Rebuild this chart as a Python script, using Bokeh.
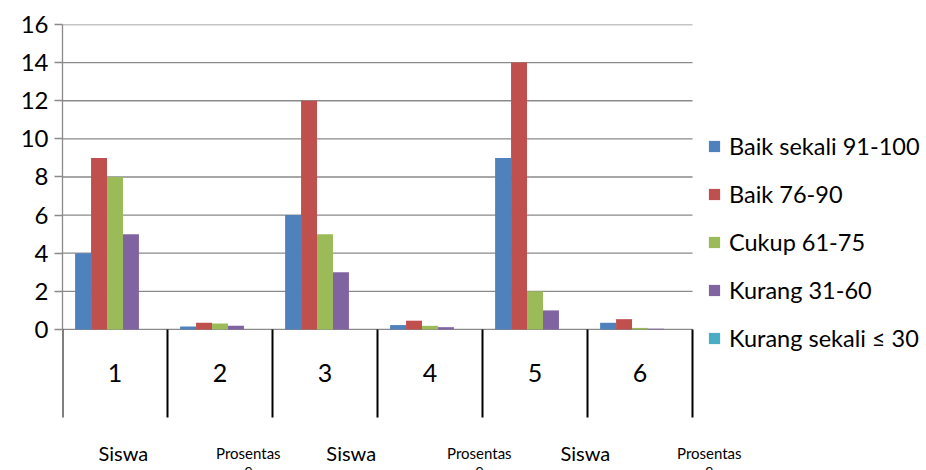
from bokeh.plotting import figure
from bokeh.models import FixedTicker, Range1d, Legend, LegendItem
from bokeh.core.properties import value
from bokeh.embed import file_html
from bokeh.resources import INLINE

# ---- data ----
categories = ["1", "2", "3", "4", "5", "6"]
level2_labels = ["Siswa", "Prosentase", "Siswa", "Prosentase", "Siswa", "Prosentase"]
series_names = ["Baik sekali 91-100", "Baik 76-90", "Cukup 61-75", "Kurang 31-60", "Kurang sekali \u2264 30"]
baik_sekali = [4, 0.15, 6, 0.23, 9, 0.35]
baik = [9, 0.35, 12, 0.46, 14, 0.54]
cukup = [8, 0.31, 5, 0.19, 2, 0.08]
kurang = [5, 0.19, 3, 0.12, 1, 0.04]
kurang_sekali = [0, 0, 0, 0, 0, 0]
y_ticks = [0, 2, 4, 6, 8, 10, 12, 14, 16]

# ---- layout / style ----
colors = ["#4F81BD", "#C0504D", "#9BBB59", "#8064A2", "#4BACC6"]
bar_w = 0.152
level2_x = [1.08, 2.27, 3.25, 4.47, 5.48, 6.66]
FONT = "Lato"
GRID = "#8a8a8a"
X_RIGHT = 8.7286         # frame extends right to host the legend
Y_BOTTOM = -7.4          # frame extends below zero to host the category axis
DIV_LEN = 4.62           # divider length (data units)
CAT_Y = -2.31            # baseline of level-1 labels
L2_Y = -6.5              # baseline of level-2 labels
L2_Y2 = -7.33            # baseline of wrapped second line

series = [baik_sekali, baik, cukup, kurang, kurang_sekali]
centers = list(range(1, len(categories) + 1))
bounds = [c - 0.5 for c in centers] + [centers[-1] + 0.5]
x_lo, x_hi = bounds[0], bounds[-1]

p = figure(width=926, height=470, output_backend="svg", toolbar_location=None,
           x_range=Range1d(x_lo, X_RIGHT), y_range=Range1d(Y_BOTTOM, 16.0001),
           x_axis_location=None,
           min_border_left=62, min_border_right=0, min_border_top=24, min_border_bottom=0)
p.outline_line_color = None
p.background_fill_color = "white"
p.border_fill_color = "white"
p.xgrid.visible = False
p.ygrid.visible = False

# horizontal gridlines across the category span (the one at 0 is the category axis line)
p.segment(x0=[x_lo] * len(y_ticks), y0=y_ticks, x1=[x_hi] * len(y_ticks), y1=y_ticks,
          line_color=GRID, line_width=1.3)

items = []
for i, (vals, name, col) in enumerate(zip(series, series_names, colors)):
    xs = [c + (i - 2) * bar_w for c in centers]
    r = p.vbar(x=xs, top=vals, width=bar_w, bottom=0, fill_color=col, line_color=None)
    items.append(LegendItem(label=name, renderers=[r]))

# y axis
p.yaxis.bounds = (0, 16)
p.yaxis.ticker = FixedTicker(ticks=y_ticks, minor_ticks=[])
p.yaxis.axis_line_color = GRID
p.yaxis.axis_line_width = 1.3
p.yaxis.major_tick_line_color = GRID
p.yaxis.major_tick_line_width = 1.3
p.yaxis.major_tick_out = 8
p.yaxis.major_tick_in = 0
p.yaxis.major_label_standoff = 6
p.yaxis.major_label_text_font = FONT
p.yaxis.major_label_text_font_size = "24px"
p.yaxis.major_label_text_color = "black"

# multi-level category axis
p.segment(x0=bounds, y0=[0] * len(bounds), x1=bounds, y1=[-DIV_LEN] * len(bounds),
          line_color="black", line_width=2)
p.text(x=centers, y=[CAT_Y] * len(centers), text=categories, text_align="center",
       text_baseline="alphabetic", text_font=value(FONT), text_font_size="25px", text_color="black")

siswa = [(x, l) for x, l in zip(level2_x, level2_labels) if l == "Siswa"]
pros = [(x, l) for x, l in zip(level2_x, level2_labels) if l != "Siswa"]
p.text(x=[s[0] for s in siswa], y=[L2_Y] * len(siswa), text=[s[1] for s in siswa],
       text_align="center", text_baseline="alphabetic", text_font=value(FONT),
       text_font_size="20px", text_color="black")
p.text(x=[s[0] for s in pros], y=[L2_Y] * len(pros), text=[s[1][:9] for s in pros],
       text_align="center", text_baseline="alphabetic", text_font=value(FONT),
       text_font_size="15px", text_color="black")
p.text(x=[s[0] for s in pros], y=[L2_Y2] * len(pros), text=[s[1][9:] for s in pros],
       text_align="center", text_baseline="alphabetic", text_font=value(FONT),
       text_font_size="15px", text_color="black")

# legend (inside the extended frame, right of the bars)
lg = Legend(items=items, location=(645, 108))
lg.label_text_font = FONT
lg.label_text_font_size = "23.5px"
lg.label_text_color = "black"
lg.glyph_width = 14
lg.glyph_height = 14
lg.label_height = 48
lg.spacing = 0
lg.padding = 0
lg.margin = 0
lg.label_standoff = 8
lg.border_line_color = None
lg.background_fill_alpha = 0
p.add_layout(lg, "center")

open("out.html", "w").write(file_html(p, INLINE))
